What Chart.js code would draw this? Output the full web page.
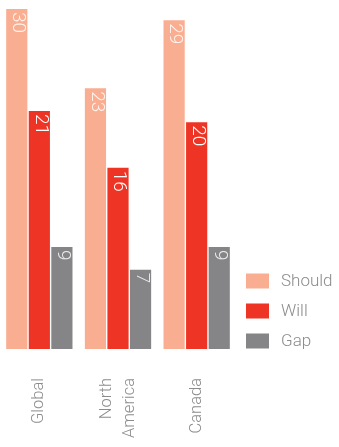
<!DOCTYPE html>
<html>
<head>
<meta charset="utf-8">
<script src="https://cdn.jsdelivr.net/npm/chart.js@4"></script>
<style>
  html, body { margin: 0; padding: 0; background: #fff; }
  #wrap { position: relative; width: 339px; height: 447px; }
</style>
</head>
<body>
<div id="wrap"><canvas id="chart"></canvas></div>
<script>
// categories and series
const categories = ['Global', ['North', 'America'], 'Canada'];
const seriesNames = ['Should', 'Will', 'Gap'];
const shouldValues = [30, 23, 29];
const willValues = [21, 16, 20];
const gapValues = [9, 7, 9];

const barColors = ['#F9AE91', '#EE3424', '#858587'];
const labelColors = ['#FFF4EE', '#FFFFFF', '#EDEDED'];
const textGray = '#8C8C8C';
const fontFamily = "'Roboto', 'Liberation Sans', Arial, sans-serif";

// value written inside the top of each bar, rotated
const barValueLabels = {
  id: 'barValueLabels',
  afterDatasetsDraw(chart) {
    const ctx = chart.ctx;
    ctx.save();
    ctx.font = '300 19px ' + fontFamily;
    ctx.textAlign = 'left';
    ctx.textBaseline = 'middle';
    chart.data.datasets.forEach((ds, i) => {
      const meta = chart.getDatasetMeta(i);
      meta.data.forEach((bar, j) => {
        ctx.save();
        ctx.translate(bar.x + 1, bar.y + 3);
        ctx.rotate(Math.PI / 2);
        ctx.fillStyle = labelColors[i];
        ctx.fillText(String(ds.data[j]), 0, 0);
        ctx.restore();
      });
    });
    ctx.restore();
  }
};

// category names, rotated, multi-line names centred on the tick
const categoryLabels = {
  id: 'categoryLabels',
  afterDraw(chart) {
    const ctx = chart.ctx;
    const xScale = chart.scales.x;
    const lineH = 23;
    ctx.save();
    ctx.font = '300 16.5px ' + fontFamily;
    ctx.fillStyle = textGray;
    ctx.textAlign = 'right';
    ctx.textBaseline = 'middle';
    chart.data.labels.forEach((lbl, i) => {
      const lines = Array.isArray(lbl) ? lbl : [lbl];
      const px = xScale.getPixelForValue(i);
      const y = chart.chartArea.bottom + 29;
      lines.forEach((line, k) => {
        const off = (k - (lines.length - 1) / 2) * lineH;
        ctx.save();
        ctx.translate(px + off, y);
        ctx.rotate(-Math.PI / 2);
        ctx.fillText(line, 0, 0);
        ctx.restore();
      });
    });
    ctx.restore();
  }
};

// legend stacked at bottom right of the plot
const sideLegend = {
  id: 'sideLegend',
  afterDraw(chart) {
    const ctx = chart.ctx;
    const area = chart.chartArea;
    const offsets = [68, 38, 8];
    ctx.save();
    ctx.font = '300 17px ' + fontFamily;
    ctx.textAlign = 'left';
    ctx.textBaseline = 'middle';
    chart.data.datasets.forEach((ds, i) => {
      const cy = area.bottom - offsets[i];
      const x = area.right + 10;
      ctx.fillStyle = ds.backgroundColor;
      ctx.fillRect(x, cy - 7.5, 23, 15);
      ctx.fillStyle = textGray;
      ctx.fillText(ds.label, x + 35, cy + 1);
    });
    ctx.restore();
  }
};

new Chart(document.getElementById('chart'), {
  type: 'bar',
  data: {
    labels: categories,
    datasets: [
      { label: seriesNames[0], data: shouldValues, backgroundColor: barColors[0] },
      { label: seriesNames[1], data: willValues, backgroundColor: barColors[1] },
      { label: seriesNames[2], data: gapValues, backgroundColor: barColors[2] }
    ]
  },
  options: {
    responsive: true,
    maintainAspectRatio: false,
    animation: false,
    layout: { padding: { top: 9, right: 103, left: 0, bottom: 0 } },
    datasets: {
      bar: { categoryPercentage: 0.86, barPercentage: 0.94 }
    },
    plugins: {
      legend: { display: false },
      tooltip: { enabled: false }
    },
    scales: {
      y: {
        display: false,
        min: 0,
        max: 30
      },
      x: {
        grid: { display: false, drawTicks: false },
        border: { display: false },
        ticks: { display: false },
        afterFit(scale) { scale.height = 98; }
      }
    }
  },
  plugins: [barValueLabels, categoryLabels, sideLegend]
});
</script>
</body>
</html>
